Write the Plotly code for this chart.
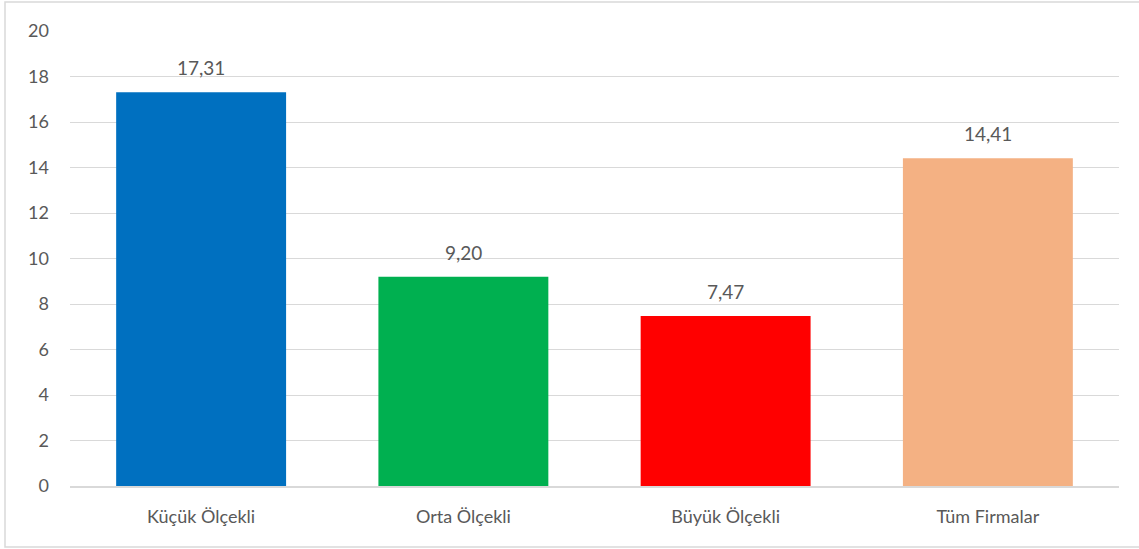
import plotly.graph_objects as go

categories = ["Küçük Ölçekli", "Orta Ölçekli", "Büyük Ölçekli", "Tüm Firmalar"]
values = [17.31, 9.20, 7.47, 14.41]
colors = ["#0070C0", "#00B050", "#FF0000", "#F4B183"]
tick_vals = [0, 2, 4, 6, 8, 10, 12, 14, 16, 18, 20]

font_family = "Lato, 'Open Sans', sans-serif"
text_color = "#595959"

fig = go.Figure(go.Bar(
    x=categories,
    y=values,
    marker=dict(color=colors, line=dict(width=0)),
    hoverinfo="skip",
))

annotations = [
    dict(x=c, y=v, xref="x", yref="y", text=f"{v:.2f}".replace(".", ","),
         showarrow=False, yanchor="bottom", yshift=11,
         font=dict(size=19, color=text_color, family=font_family))
    for c, v in zip(categories, values)
]

fig.update_layout(
    width=1139, height=549,
    margin=dict(l=70, r=20, t=31, b=63),
    paper_bgcolor="white", plot_bgcolor="white",
    bargap=0.352,
    showlegend=False,
    font=dict(family=font_family, color=text_color, size=18),
    xaxis=dict(showgrid=False, showline=True, linecolor="#D9D9D9", linewidth=1.5,
               ticks="", tickfont=dict(size=18, color=text_color), ticklabelstandoff=14),
    yaxis=dict(range=[0, 20], tickvals=tick_vals, showgrid=True, gridcolor="#D9D9D9",
               gridwidth=1, zeroline=False, showline=False, ticks="",
               tickfont=dict(size=18, color=text_color), ticklabelstandoff=20),
    annotations=annotations,
    shapes=[dict(type="rect", xref="paper", yref="paper",
                 x0=-65/1049, x1=1.03, y0=-61/455, y1=1+29/455,
                 line=dict(color="#D9D9D9", width=1.5), layer="below")],
)

fig.write_html("out.html", config={"displayModeBar": False},
               post_script="document.body.style.margin='0';document.body.style.padding='0';")
